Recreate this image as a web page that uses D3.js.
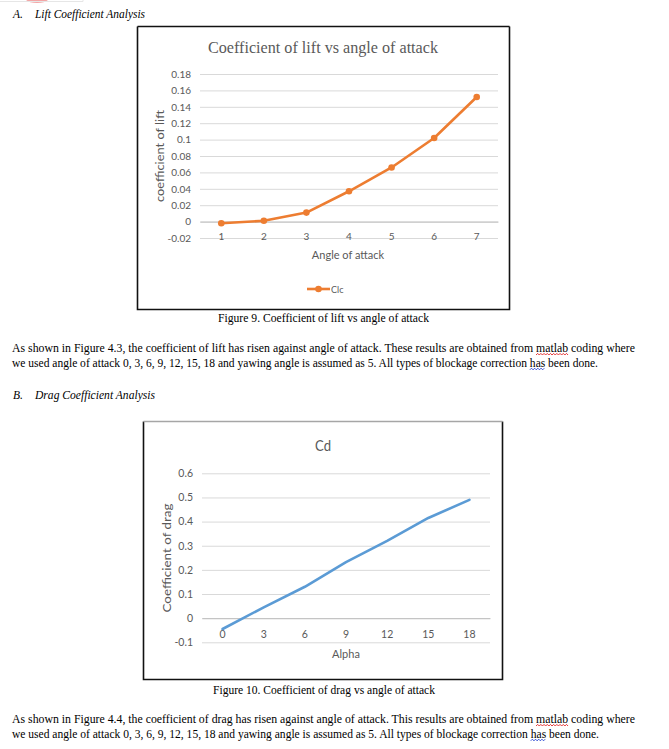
<!DOCTYPE html>
<html>
<head>
<meta charset="utf-8">
<script src="https://cdn.jsdelivr.net/npm/d3@7"></script>
<style>
	body { margin: 0; background: #fff; }
	svg { display: block; }
	.doc { font-family: "Liberation Serif", "Times New Roman", serif; fill: #000; }
	.xl { font-family: Lato, "Open Sans", sans-serif; fill: #595959; }
</style>
</head>
<body>
<div id="page"></div>
<script>
// VARIABLES //

// Lift chart (Figure 9)
const liftCategories = [ '1', '2', '3', '4', '5', '6', '7' ];
const liftValues = [ -0.002, 0.001, 0.011, 0.037, 0.066, 0.102, 0.152 ];
const liftTicks = [ -0.02, 0, 0.02, 0.04, 0.06, 0.08, 0.1, 0.12, 0.14, 0.16, 0.18 ];

// Drag chart (Figure 10)
const dragCategories = [ '0', '3', '6', '9', '12', '15', '18' ];
const dragValues = [ -0.045, 0.045, 0.13, 0.232, 0.32, 0.415, 0.49 ];
const dragTicks = [ -0.1, 0, 0.1, 0.2, 0.3, 0.4, 0.5, 0.6 ];

const paraLift = [
	'As shown in Figure 4.3, the coefficient of lift has risen against angle of attack. These results are obtained from matlab coding where',
	'we used angle of attack 0, 3, 6, 9, 12, 15, 18 and yawing angle is assumed as 5. All types of blockage correction has been done.'
];
const paraDrag = [
	'As shown in Figure 4.4, the coefficient of drag has risen against angle of attack. This results are obtained from matlab coding where',
	'we used angle of attack 0, 3, 6, 9, 12, 15, 18 and yawing angle is assumed as 5. All types of blockage correction has been done.'
];

const W = 669;
const H = 749;

const svg = d3.select( '#page' ).append( 'svg' )
	.attr( 'width', W )
	.attr( 'height', H );

svg.append( 'rect' ).attr( 'width', W ).attr( 'height', H ).attr( 'fill', '#fff' );


// FUNCTIONS //

const fmt = d => String( +d.toFixed( 2 ) );

// Squiggly spell-check underline below `len` chars found by `key`.
function squiggle( textNode, line, key, len, color ) {
	const idx = line.indexOf( key );
	if ( idx < 0 ) return;
	const start = textNode.getStartPositionOfChar( idx );
	const end = textNode.getEndPositionOfChar( idx + len - 1 );
	const y = start.y + 3;
	let d = 'M' + start.x + ',' + y;
	let up = true;
	for ( let x = start.x + 1.6; x <= end.x + 0.5; x += 1.6 ) {
		d += 'L' + x + ',' + ( up ? y - 1.6 : y );
		up = !up;
	}
	svg.append( 'path' )
		.attr( 'd', d )
		.attr( 'fill', 'none' )
		.attr( 'stroke', color )
		.attr( 'stroke-width', 0.9 );
}

function paragraph( lines, x, y0, widths ) {
	lines.forEach( ( line, i ) => {
		const t = svg.append( 'text' )
			.attr( 'class', 'doc' )
			.attr( 'x', x )
			.attr( 'y', y0 + i * 14.8 )
			.attr( 'font-size', 12 )
			.attr( 'textLength', widths[ i ] )
			.attr( 'lengthAdjust', 'spacingAndGlyphs' )
			.text( line );
		squiggle( t.node(), line, 'matlab', 6, '#e02020' );
		squiggle( t.node(), line, 'has been', 3, '#2040d0' );
	});
}

function heading( letter, label, y, width ) {
	svg.append( 'text' ).attr( 'class', 'doc' )
		.attr( 'x', 13 ).attr( 'y', y )
		.attr( 'font-size', 11.5 ).attr( 'font-style', 'italic' )
		.text( letter );
	svg.append( 'text' ).attr( 'class', 'doc' )
		.attr( 'x', 35 ).attr( 'y', y )
		.attr( 'font-size', 11.5 ).attr( 'font-style', 'italic' )
		.attr( 'textLength', width ).attr( 'lengthAdjust', 'spacingAndGlyphs' )
		.text( label );
}

function caption( label, cx, y, width ) {
	svg.append( 'text' ).attr( 'class', 'doc' )
		.attr( 'x', cx ).attr( 'y', y )
		.attr( 'font-size', 12 )
		.attr( 'text-anchor', 'middle' )
		.attr( 'textLength', width ).attr( 'lengthAdjust', 'spacingAndGlyphs' )
		.text( label );
}

// Excel-style line chart inside a framed box.
function lineChart( o ) {
	const g = svg.append( 'g' );

	const x = d3.scaleBand()
		.domain( o.categories )
		.range([ o.plot.x0, o.plot.x1 ]);
	const y = d3.scaleLinear()
		.domain( d3.extent( o.ticks ) )
		.range([ o.plot.y1, o.plot.y0 ]);

	// Gridlines + y labels
	const yAxis = g.append( 'g' )
		.attr( 'transform', 'translate(' + o.plot.x0 + ',0)' )
		.call( d3.axisLeft( y )
			.tickValues( o.ticks )
			.tickFormat( fmt )
			.tickSize( -( o.plot.x1 - o.plot.x0 ) )
			.tickPadding( o.tickPad ) );
	yAxis.select( '.domain' ).remove();
	yAxis.selectAll( 'line' ).attr( 'stroke', '#d9d9d9' ).attr( 'stroke-width', 1 );
	yAxis.selectAll( 'text' )
		.attr( 'class', 'xl' )
		.attr( 'font-size', o.tickSize );

	// Category axis at zero
	const xAxis = g.append( 'g' )
		.attr( 'transform', 'translate(0,' + y( 0 ) + ')' )
		.call( d3.axisBottom( x ).tickSize( 0 ).tickPadding( o.xPad ) );
	xAxis.select( '.domain' ).attr( 'stroke', '#bfbfbf' );
	xAxis.selectAll( 'text' )
		.attr( 'class', 'xl' )
		.attr( 'font-size', o.tickSize );

	// Series
	const line = d3.line()
		.x( ( d, i ) => x( o.categories[ i ] ) + x.bandwidth() / 2 )
		.y( d => y( d ) );
	g.append( 'path' )
		.datum( o.values )
		.attr( 'd', line )
		.attr( 'fill', 'none' )
		.attr( 'stroke', o.color )
		.attr( 'stroke-width', 2.6 )
		.attr( 'stroke-linejoin', 'round' )
		.attr( 'stroke-linecap', 'round' );

	if ( o.markers ) {
		g.selectAll( 'circle.pt' )
			.data( o.values )
			.enter().append( 'circle' )
			.attr( 'class', 'pt' )
			.attr( 'cx', ( d, i ) => x( o.categories[ i ] ) + x.bandwidth() / 2 )
			.attr( 'cy', d => y( d ) )
			.attr( 'r', 3.3 )
			.attr( 'fill', o.color );
	}

	// Titles
	g.append( 'text' )
		.attr( 'x', o.title.x ).attr( 'y', o.title.y )
		.attr( 'text-anchor', 'middle' )
		.attr( 'font-family', o.title.font )
		.attr( 'font-size', o.title.size )
		.attr( 'fill', '#595959' )
		.attr( 'textLength', o.title.len )
		.attr( 'lengthAdjust', 'spacingAndGlyphs' )
		.text( o.title.text );

	g.append( 'text' )
		.attr( 'class', 'xl' )
		.attr( 'x', o.xTitle.x ).attr( 'y', o.xTitle.y )
		.attr( 'text-anchor', 'middle' )
		.attr( 'font-size', 11 )
		.text( o.xTitle.text );

	g.append( 'text' )
		.attr( 'class', 'xl' )
		.attr( 'transform', 'translate(' + o.yTitle.x + ',' + o.yTitle.y + ') rotate(-90)' )
		.attr( 'text-anchor', 'middle' )
		.attr( 'font-size', 11 )
		.attr( 'textLength', o.yTitle.len )
		.attr( 'lengthAdjust', 'spacingAndGlyphs' )
		.text( o.yTitle.text );

	return { g, x, y };
}

function frame( x0, y0, x1, y1, topColor ) {
	svg.append( 'path' )
		.attr( 'd', 'M' + x0 + ',' + y0 + 'L' + x0 + ',' + y1 + 'L' + x1 + ',' + y1 + 'L' + x1 + ',' + y0 )
		.attr( 'fill', 'none' )
		.attr( 'stroke', '#111' )
		.attr( 'stroke-width', 1.6 );
	svg.append( 'line' )
		.attr( 'x1', x0 ).attr( 'x2', x1 )
		.attr( 'y1', y0 ).attr( 'y2', y0 )
		.attr( 'stroke', topColor )
		.attr( 'stroke-width', 1.4 );
}


// MAIN //

// Leftover bits at the very top of the page
svg.append( 'path' )
	.attr( 'd', 'M26,0 A12,5 0 0 0 48,0 Z' )
	.attr( 'fill', '#f3a6a6' );
svg.append( 'path' )
	.attr( 'd', 'M0,1.5 L83,1.5 L83,0' )
	.attr( 'fill', 'none' )
	.attr( 'stroke', '#e6e6e6' );

heading( 'A.', 'Lift Coefficient Analysis', 18, 110 );

frame( 137.5, 26.5, 509.5, 309.5, '#111' );
lineChart({
	categories: liftCategories,
	values: liftValues,
	ticks: liftTicks,
	plot: { x0: 200, x1: 498, y0: 74, y1: 238 },
	tickPad: 9,
	tickSize: 10,
	xPad: 11,
	color: '#ed7d31',
	markers: true,
	title: { text: 'Coefficient of lift vs angle of attack', x: 323, y: 53, size: 16, len: 230, font: '"Liberation Serif", serif' },
	xTitle: { text: 'Angle of attack', x: 348, y: 259 },
	yTitle: { text: 'coefficient of lift', x: 164, y: 156, len: 92 }
});

// Legend
svg.append( 'line' )
	.attr( 'x1', 307 ).attr( 'x2', 330 )
	.attr( 'y1', 289 ).attr( 'y2', 289 )
	.attr( 'stroke', '#ed7d31' ).attr( 'stroke-width', 2.6 );
svg.append( 'circle' )
	.attr( 'cx', 318.5 ).attr( 'cy', 289 ).attr( 'r', 3.3 )
	.attr( 'fill', '#ed7d31' );
svg.append( 'text' )
	.attr( 'class', 'xl' )
	.attr( 'x', 331 ).attr( 'y', 292.5 )
	.attr( 'font-size', 9 )
	.text( 'Clc' );

caption( 'Figure 9. Coefficient of lift vs angle of attack', 323.5, 322, 211 );

paragraph( paraLift, 12, 352, [ 623, 586 ] );

heading( 'B.', 'Drag Coefficient Analysis', 399, 120 );

frame( 143.5, 421.5, 502.5, 679.5, '#a6a6a6' );
lineChart({
	categories: dragCategories,
	values: dragValues,
	ticks: dragTicks,
	plot: { x0: 202, x1: 490, y0: 473.3, y1: 642.3 },
	tickPad: 9,
	tickSize: 10.5,
	xPad: 12,
	color: '#5b9bd5',
	markers: false,
	title: { text: 'Cd', x: 323, y: 451, size: 15, len: 16, font: 'Lato, sans-serif' },
	xTitle: { text: 'Alpha', x: 346, y: 658 },
	yTitle: { text: 'Coefficient of drag', x: 171, y: 558, len: 109 }
});

caption( 'Figure 10. Coefficient of drag vs angle of attack', 324, 694, 222 );

paragraph( paraDrag, 12, 723, [ 623, 587 ] );
</script>
</body>
</html>
